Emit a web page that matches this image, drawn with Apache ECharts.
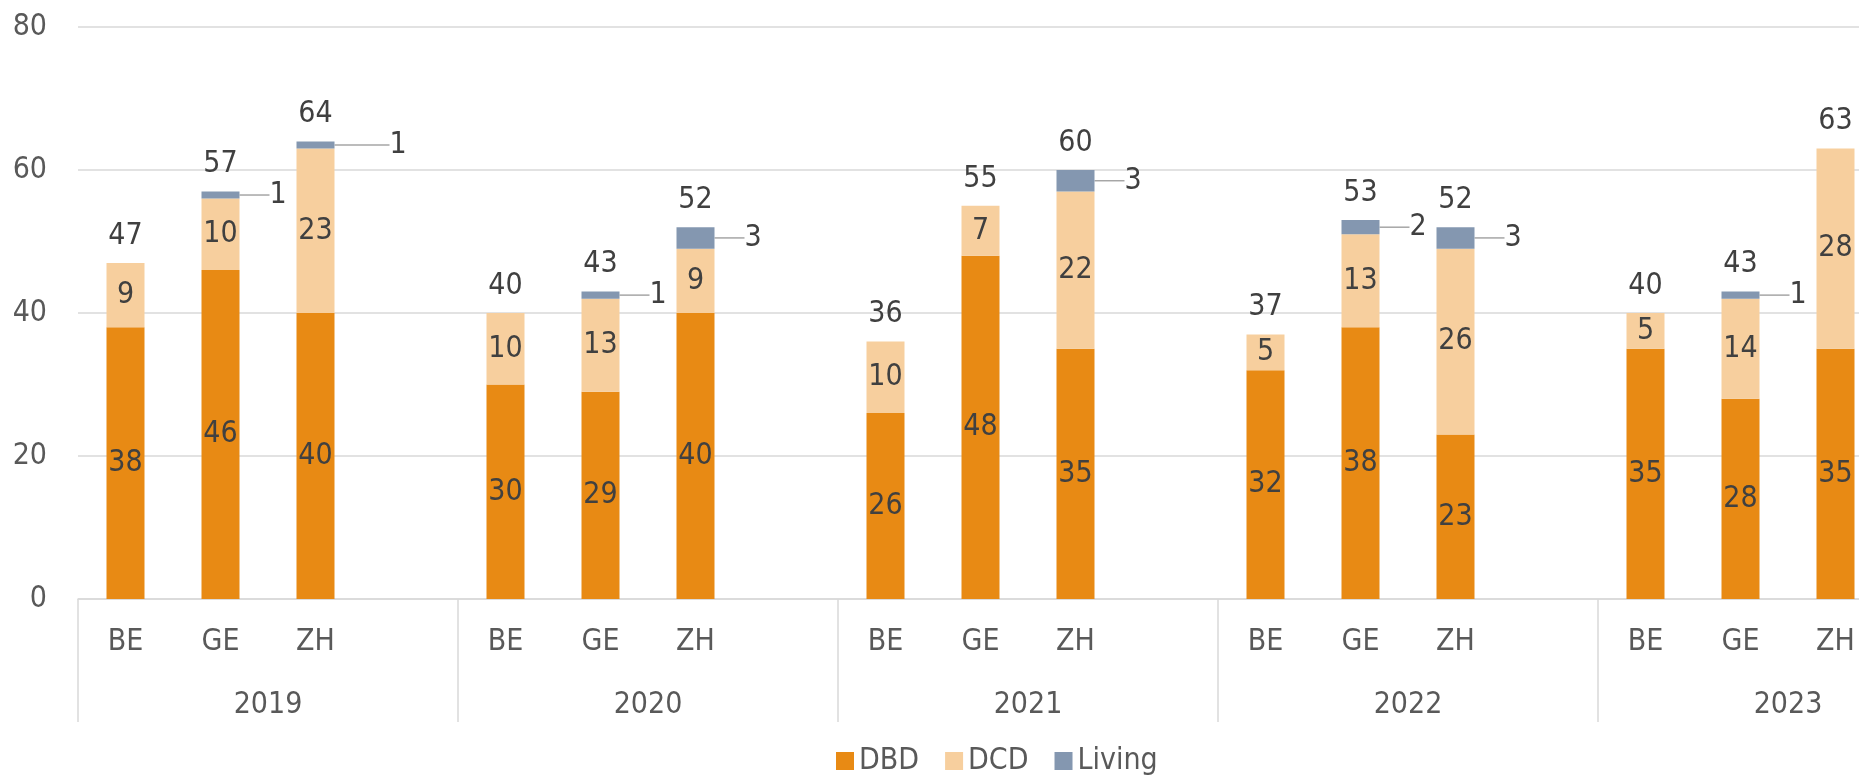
<!DOCTYPE html>
<html>
<head>
<meta charset="utf-8">
<script src="https://cdn.jsdelivr.net/npm/echarts@6/dist/echarts.min.js"></script>
<style>
  html, body { margin: 0; padding: 0; background: #fff; overflow: hidden; }
  #chart { width: 1990px; height: 778px; }
</style>
</head>
<body>
<div id="chart"></div>
<script>
// data
const years = ['2019', '2020', '2021', '2022', '2023'];
const cantons = ['BE', 'GE', 'ZH'];
const dbd = [38, 46, 40, 30, 29, 40, 26, 48, 35, 32, 38, 23, 35, 28, 35];
const dcd = [9, 10, 23, 10, 13, 9, 10, 7, 22, 5, 13, 26, 5, 14, 28];
const living = [0, 1, 1, 0, 1, 3, 0, 0, 3, 0, 2, 3, 0, 1, 0];
const yTicks = [0, 20, 40, 60, 80];

const FONT = "'DejaVu Sans Condensed', 'DejaVu Sans', sans-serif";

// each year gets 3 cantons + one empty slot
const categories = [];
const slot = []; // index into the 15 values, or -1 for the gap
years.forEach(function (y, yi) {
    cantons.forEach(function (c, ci) {
        categories.push(c);
        slot.push(yi * 3 + ci);
    });
    categories.push('');
    slot.push(-1);
});

function expand(arr, fn) {
    return slot.map(function (s) {
        if (s < 0) return '-';
        return fn ? fn(arr[s], s) : arr[s];
    });
}

const totals = dbd.map(function (v, i) { return v + dcd[i] + living[i]; });

// the chart is wider than the window: the last group is cut off like in the original
var chartDom = document.getElementById('chart');
var myChart = echarts.init(chartDom);

var labelStyle = {
    show: true,
    position: 'inside',
    color: '#404040',
    fontFamily: FONT,
    fontSize: 30
};

var option = {
    animation: false,
    textStyle: { fontFamily: FONT },
    grid: { left: 78, right: 12, top: 27, bottom: 179, containLabel: false },
    legend: {
        data: ['DBD', 'DCD', 'Living'],
        left: 831,
        top: 741,
        icon: 'rect',
        itemWidth: 18,
        itemHeight: 18,
        itemGap: 26,
        textStyle: { color: '#595959', fontSize: 30, fontFamily: FONT }
    },
    xAxis: [
        {
            type: 'category',
            position: 'bottom',
            data: categories,
            axisLine: { lineStyle: { color: '#D9D9D9', width: 1.5 } },
            axisTick: {
                show: true,
                length: 123,
                interval: function (i) { return i % 4 === 0; },
                lineStyle: { color: '#D9D9D9', width: 1.5 }
            },
            axisLabel: { interval: 0, margin: 28, color: '#595959', fontSize: 30, fontFamily: FONT }
        },
        {
            type: 'category',
            position: 'bottom',
            data: years,
            axisLine: { show: false },
            axisTick: { show: false },
            axisLabel: { interval: 0, margin: 91, color: '#595959', fontSize: 30, fontFamily: FONT }
        }
    ],
    yAxis: {
        type: 'value',
        min: yTicks[0],
        max: yTicks[yTicks.length - 1],
        interval: 20,
        axisLine: { show: false },
        axisTick: { show: false },
        splitLine: { lineStyle: { color: '#D9D9D9', width: 1.5 } },
        axisLabel: { margin: 31, color: '#595959', fontSize: 30, fontFamily: FONT }
    },
    series: [
        {
            name: 'DBD',
            type: 'bar',
            stack: 'a',
            barWidth: 38,
            itemStyle: { color: '#E88A14' },
            label: labelStyle,
            data: expand(dbd)
        },
        {
            name: 'DCD',
            type: 'bar',
            stack: 'a',
            barWidth: 38,
            itemStyle: { color: '#F7CF9E' },
            label: labelStyle,
            data: expand(dcd)
        },
        {
            name: 'Living',
            type: 'bar',
            stack: 'a',
            barWidth: 38,
            itemStyle: { color: '#8497B0' },
            label: {
                show: true,
                position: 'right',
                distance: 4,
                padding: [0, 0, 0, 9],
                color: '#404040',
                fontFamily: FONT,
                fontSize: 30
            },
            // first ZH label sits further out in the original
            labelLayout: function (p) {
                return { dx: p.dataIndex === 2 ? 42 : 17 };
            },
            labelLine: { show: true, lineStyle: { color: '#A6A6A6', width: 1.5 } },
            data: expand(living, function (v) {
                if (v) return v;
                return { value: 0, label: { show: false }, labelLine: { show: false } };
            })
        },
        {
            name: 'Total',
            type: 'bar',
            stack: 'a',
            barWidth: 38,
            itemStyle: { color: 'rgba(0,0,0,0)' },
            label: {
                show: true,
                position: 'top',
                distance: 12,
                color: '#404040',
                fontFamily: FONT,
                fontSize: 30,
                formatter: function (p) { return totals[slot[p.dataIndex]]; }
            },
            data: expand(totals, function () { return 0; })
        }
    ]
};

myChart.setOption(option);
</script>
</body>
</html>
